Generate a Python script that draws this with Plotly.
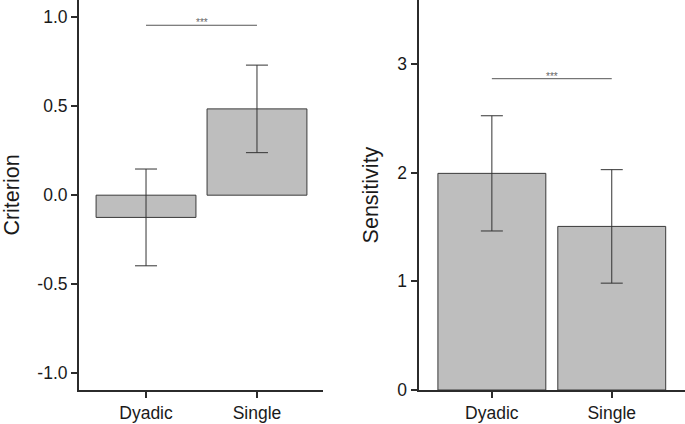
import plotly.graph_objects as go
from plotly.subplots import make_subplots

categories = ["Dyadic", "Single"]
criterion_mean = [-0.125, 0.485]
criterion_err = [0.272, 0.246]
sensitivity_mean = [1.993, 1.505]
sensitivity_err = [0.53, 0.522]
criterion_sig_y = 0.955
sensitivity_sig_y = 2.864
sig_label = "***"
criterion_ticks = [-1.0, -0.5, 0.0, 0.5, 1.0]
criterion_ticktext = ["-1.0", "-0.5", "0.0", "0.5", "1.0"]
sensitivity_ticks = [0, 1, 2, 3]

FONT = "Liberation Sans, Arial, sans-serif"
BAR_FILL = "#bebebe"
DARK = "#2b2b2b"
TXT = "#1a1a1a"

fig = make_subplots(rows=1, cols=2)

fig.add_trace(go.Bar(
    x=categories, y=criterion_mean, width=0.9,
    marker=dict(color=BAR_FILL, line=dict(color="#3a3a3a", width=1)),
    error_y=dict(type="data", array=criterion_err, color="#333333", thickness=1, width=11),
    showlegend=False), row=1, col=1)

fig.add_trace(go.Bar(
    x=categories, y=sensitivity_mean, width=0.9,
    marker=dict(color=BAR_FILL, line=dict(color="#3a3a3a", width=1)),
    error_y=dict(type="data", array=sensitivity_err, color="#333333", thickness=1, width=11),
    showlegend=False), row=1, col=2)

# significance lines
fig.add_trace(go.Scatter(x=categories, y=[criterion_sig_y] * 2, mode="lines",
                         line=dict(color="#555555", width=1), showlegend=False,
                         hoverinfo="skip"), row=1, col=1)
fig.add_trace(go.Scatter(x=categories, y=[sensitivity_sig_y] * 2, mode="lines",
                         line=dict(color="#555555", width=1), showlegend=False,
                         hoverinfo="skip"), row=1, col=2)

fig.add_annotation(x=0.5, y=criterion_sig_y, xref="x", yref="y", text=sig_label,
                   showarrow=False, yanchor="bottom", yshift=-5,
                   font=dict(family=FONT, size=10, color="#666666"))
fig.add_annotation(x=0.5, y=sensitivity_sig_y, xref="x2", yref="y2", text=sig_label,
                   showarrow=False, yanchor="bottom", yshift=-5,
                   font=dict(family=FONT, size=10, color="#666666"))

axis_common = dict(showline=True, linecolor=DARK, linewidth=2, ticks="outside",
                   ticklen=6, tickwidth=1.5, tickcolor=DARK, showgrid=False,
                   zeroline=False, tickfont=dict(family=FONT, size=17.5, color=TXT))

fig.update_xaxes(**axis_common)
fig.update_yaxes(**axis_common)

fig.update_xaxes(domain=[79 / 685, 323 / 685], range=[-0.604, 1.595], row=1, col=1)
fig.update_xaxes(domain=[418.5 / 685, 1.0], range=[-0.612, 1.611], row=1, col=2)

fig.update_yaxes(range=[-1.095, 1.097], tickvals=criterion_ticks, ticktext=criterion_ticktext,
                 title=dict(text="Criterion", font=dict(family=FONT, size=21.5, color=TXT),
                            standoff=18),
                 row=1, col=1)
fig.update_yaxes(range=[0, 3.588], tickvals=sensitivity_ticks,
                 title=dict(text="Sensitivity", font=dict(family=FONT, size=21.5, color=TXT),
                            standoff=13),
                 row=1, col=2)

fig.update_layout(
    width=685, height=424,
    margin=dict(l=0, r=0, t=0, b=34),
    plot_bgcolor="white", paper_bgcolor="white",
    bargap=0.1,
)

fig.write_html("out.html", config={"displayModeBar": False},
               post_script="document.body.style.margin='0';")
